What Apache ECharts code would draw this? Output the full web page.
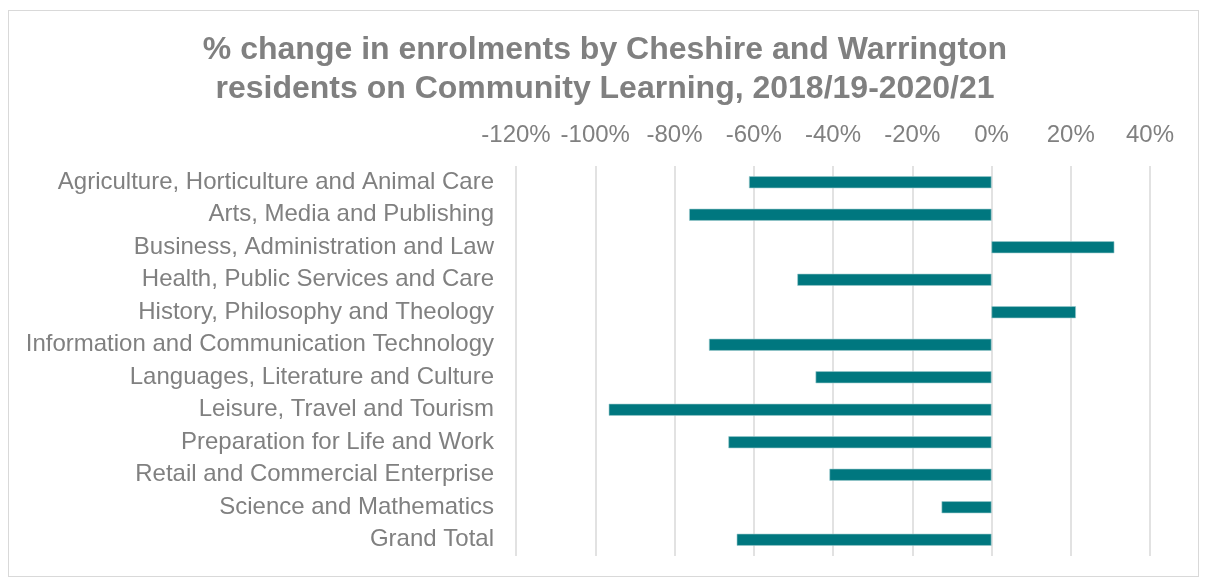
<!DOCTYPE html>
<html>
<head>
<meta charset="utf-8">
<script src="https://cdn.jsdelivr.net/npm/echarts@6/dist/echarts.min.js"></script>
<style>
html,body{margin:0;padding:0;background:#fff;}
#frame{position:absolute;left:8px;top:10px;width:1191px;height:567px;border:1px solid #d9d9d9;box-sizing:border-box;}
#chart{position:absolute;left:0;top:0;width:1205px;height:579px;}
</style>
</head>
<body>
<div id="frame"></div>
<div id="chart"></div>
<script>
const titleText = "% change in enrolments by Cheshire and Warrington\nresidents on Community Learning, 2018/19-2020/21";
const categories = [
  "Agriculture, Horticulture and Animal Care",
  "Arts, Media and Publishing",
  "Business, Administration and Law",
  "Health, Public Services and Care",
  "History, Philosophy and Theology",
  "Information and Communication Technology",
  "Languages, Literature and Culture",
  "Leisure, Travel and Tourism",
  "Preparation for Life and Work",
  "Retail and Commercial Enterprise",
  "Science and Mathematics",
  "Grand Total"
];
const changePct = [-61.2, -76.3, 31.0, -49.0, 21.3, -71.3, -44.4, -96.6, -66.4, -40.9, -12.6, -64.3];
const axisMin = -120, axisMax = 40, axisStep = 20;

const chart = echarts.init(document.getElementById('chart'), null, {renderer: 'canvas'});
chart.setOption({
  backgroundColor: 'transparent',
  animation: false,
  title: {
    text: titleText,
    left: 600, top: 26, textAlign: 'center',
    textStyle: {fontFamily: 'Liberation Sans, Arial', fontSize: 32, fontWeight: 'bold', color: '#808080', lineHeight: 39}
  },
  grid: {left: 516, right: 55, top: 166, bottom: 23, containLabel: false},
  xAxis: {
    type: 'value', position: 'top',
    min: axisMin, max: axisMax, interval: axisStep,
    axisLine: {show: false}, axisTick: {show: false},
    axisLabel: {formatter: v => v + '%', color: '#808080', fontSize: 24, fontFamily: 'Liberation Sans, Arial', margin: 19},
    splitLine: {lineStyle: {color: '#d9d9d9', width: 1.5}}
  },
  yAxis: {
    type: 'category', data: categories, inverse: true,
    axisLine: {show: false}, axisTick: {show: false},
    axisLabel: {color: '#808080', fontSize: 24, fontFamily: 'Liberation Sans, Arial', margin: 22, interval: 0}
  },
  series: [{
    type: 'bar', data: changePct, barWidth: 12,
    itemStyle: {color: '#00777f', borderColor: '#9ccbcf', borderWidth: 0.6}
  }]
});
</script>
</body>
</html>
